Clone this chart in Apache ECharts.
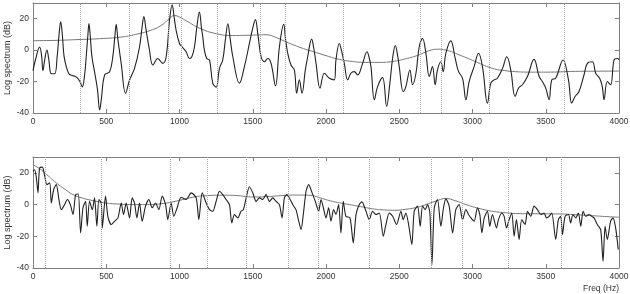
<!DOCTYPE html>
<html><head><meta charset="utf-8">
<script src="https://cdn.jsdelivr.net/npm/echarts@6/dist/echarts.min.js"></script>
<style>html,body{margin:0;padding:0;background:#fff}#c{width:630px;height:294px}</style>
</head><body><div id="c"></div>
<script>
// Frequency (Hz), log spectrum (dB)
const topSpectrum = [[0,-13],[20,-5],[45,2],[58,-3],[68,-13],[80,-6],[95,0],[108,-6],[125,-15],[148,-15],[165,-4],[178,10],[189,18],[200,10],[212,-4],[227,-10.5],[245,-15],[261,-16],[295,-17],[320,-20],[336,-23.4],[352,-16],[365,-2],[375,10],[382,17],[390,10],[402,-4],[420,-13.7],[440,-25],[455,-38],[466,-31.6],[489,-15.8],[523,-13.7],[545,-4],[558,8],[568,16.4],[578,8],[602,-8.4],[632,-27.4],[659,-19],[693,-11.6],[727,2],[745,15],[757,21.3],[770,14],[795,0],[818,-9.5],[852,-5.3],[870,-7],[886,-8.4],[909,-4.2],[932,19],[950,28.9],[962,22],[977,12.6],[1000,4.2],[1018,2],[1045,-1],[1068,-5.3],[1085,-4],[1102,2],[1120,16],[1136,24.2],[1150,14],[1159,8.4],[1170,0],[1186,-5.3],[1205,-6.3],[1227,-21],[1250,-23.6],[1273,-11.6],[1295,-6.3],[1315,8],[1330,16.8],[1345,8],[1364,-4.2],[1409,-21],[1443,-10.5],[1477,4.2],[1500,14],[1518,19.4],[1535,10],[1557,-4.2],[1580,-7.4],[1602,-5.3],[1625,-8.4],[1655,-22.7],[1682,2],[1711,16.4],[1725,6],[1739,-2],[1761,-9.5],[1784,-12.6],[1800,-27.4],[1818,-18.9],[1836,-27.4],[1859,-12.6],[1875,-4.2],[1902,7],[1915,2],[1932,-8.4],[1959,-24.2],[1989,-14.7],[2023,-17.9],[2057,-18.9],[2068,-6.3],[2091,4.2],[2105,0],[2125,-8.4],[2148,-18.9],[2170,-14.7],[2193,-13.7],[2216,-15.8],[2250,-8.4],[2280,-1],[2295,-5],[2307,-10.5],[2330,-31.6],[2352,-23.2],[2386,-17.5],[2414,-35.8],[2436,-21],[2455,-5],[2473,3],[2490,-4],[2500,-10.5],[2527,-26.3],[2545,-23.2],[2573,-12.6],[2591,-22],[2614,-14.7],[2636,2],[2659,7.4],[2682,-2],[2705,-16.8],[2727,-10.5],[2745,-22],[2761,-12.6],[2784,-7.4],[2800,-13.7],[2818,-2],[2852,5.9],[2882,-5.3],[2905,-13.7],[2932,-17.9],[2955,-31.6],[2977,-20],[3011,-10.5],[3041,-2],[3068,-10.5],[3102,-33.7],[3125,-21],[3148,-18.9],[3170,-17.9],[3205,-11.6],[3234,-4.2],[3261,-12.6],[3291,-29.5],[3314,-24.2],[3341,-22],[3375,-16.8],[3420,-5.9],[3455,-16.8],[3477,-20],[3500,-24.2],[3523,-31.6],[3541,-18.9],[3568,-17.9],[3618,-6.3],[3655,-18.9],[3677,-33.7],[3700,-29.5],[3727,-26.3],[3761,-15.8],[3784,-8.4],[3818,-7.4],[3841,-14.7],[3868,-17.9],[3886,-23.2],[3898,-31.6],[3920,-20],[3943,-22],[3966,-6.3],[3989,-5.3],[4000,-6]];
const topEnvelope = [[0,6],[150,6.2],[300,6.7],[455,7.3],[600,8.3],[700,10],[800,12.5],[880,16],[930,20],[966,22],[1000,21],[1050,18.5],[1136,14],[1250,10.5],[1364,9.3],[1480,9.5],[1591,9.8],[1660,8],[1727,5.3],[1830,1.5],[1932,-1.5],[2000,-3.5],[2091,-5.9],[2180,-7.2],[2273,-7.8],[2370,-7.8],[2455,-7.2],[2540,-5.6],[2636,-3],[2700,-0.5],[2760,0.6],[2820,0],[2909,-3],[3000,-6.5],[3136,-11.6],[3220,-13],[3295,-13.7],[3400,-14],[3500,-14],[3705,-13.5],[3850,-13.4],[4000,-13.3]];
const topMarkers = [325,660,920,1012,1261,1548,1721,2120,2643,2788,3116,3625];

const bottomSpectrum = [[0,21],[11,22],[23,16.8],[34,7.4],[45,23.2],[64,23.6],[80,17.9],[95,12.6],[114,13.7],[125,1],[141,9.5],[159,12.6],[177,3.2],[193,-3.2],[216,0],[234,3.2],[255,0],[273,-6.3],[291,6.3],[309,6.7],[325,-17.9],[341,-2],[359,2],[370,-13.7],[386,2],[405,-3.2],[420,4.2],[436,-13.7],[450,3.2],[466,1],[473,-14.7],[495,5.3],[511,-7.4],[534,-12.6],[557,-10.5],[580,-8.4],[602,1],[618,-6.3],[636,1],[659,-8.4],[677,4.2],[693,1],[709,-8.4],[727,1],[745,-10.5],[768,-1],[791,3.2],[814,-2],[836,1],[859,-3.2],[882,5.3],[905,0],[920,-9.5],[943,1],[961,-7.4],[984,-2],[1011,4.6],[1045,3.2],[1080,7.4],[1114,4.2],[1132,-9.5],[1155,7.4],[1182,1],[1205,-3.2],[1227,-4.2],[1250,2],[1273,8.4],[1295,6.3],[1318,3.2],[1341,0],[1357,-11.6],[1375,-6.3],[1398,-8.4],[1420,-4.2],[1436,-3.2],[1455,4.2],[1477,11.2],[1500,7.4],[1523,2],[1545,4.2],[1568,3.2],[1591,6.3],[1614,2],[1636,4.2],[1659,2],[1682,0],[1700,-8.4],[1716,4.2],[1732,6.3],[1750,4.2],[1773,0],[1795,-3.2],[1814,-10.5],[1830,-15.8],[1845,-6.3],[1864,8.4],[1882,12.6],[1905,7.4],[1927,2],[1950,-4.2],[1966,3.2],[1982,-2],[2000,-8.4],[2018,-2],[2034,-10.5],[2052,-3.2],[2068,-6.3],[2086,0],[2102,-17.9],[2118,2],[2136,-7.4],[2164,-8.4],[2186,-24.2],[2205,-6.3],[2227,0],[2245,1.7],[2273,-4.2],[2295,-9.5],[2318,-4.2],[2341,-6.3],[2364,-5.3],[2391,-20],[2409,-12.6],[2432,-5.3],[2455,-7.4],[2482,-12.6],[2511,-4.2],[2527,-9.5],[2545,-5.3],[2564,-12.6],[2586,-25.3],[2602,-4.2],[2625,-1],[2643,-13.7],[2659,-1],[2677,-3.2],[2693,0],[2709,-5.3],[2723,-37.9],[2739,-2],[2761,3.2],[2784,-13.7],[2802,-2],[2818,3.6],[2841,-1],[2864,-17.9],[2886,-3.2],[2909,0],[2932,-9.5],[2955,-3.2],[2973,-6.3],[2989,-8.4],[3011,-10.5],[3034,-2],[3050,-6.3],[3064,-17.9],[3080,-8.4],[3102,-4.2],[3118,-13.7],[3136,-6.3],[3164,-14.7],[3177,-9.5],[3200,-5.3],[3216,-7.4],[3232,-14.7],[3250,-9.5],[3268,-5.3],[3284,-20],[3300,-9.5],[3318,-22],[3336,-9.5],[3359,-12.6],[3375,-4.2],[3398,-7.4],[3420,-1],[3443,-3.2],[3466,-6.3],[3489,-5.3],[3505,-8.4],[3523,-7.4],[3541,-5.3],[3568,-22],[3586,-9.5],[3602,-7.4],[3614,-18.9],[3632,-7.4],[3655,-6.3],[3670,-11.6],[3686,-6.3],[3705,-8.4],[3723,-5.3],[3739,-13.7],[3755,-4.2],[3773,-7.4],[3795,-6.3],[3814,-7.4],[3830,-8.4],[3852,-12.6],[3875,-15.8],[3891,-35.8],[3905,-13.7],[3920,-22],[3943,-10.5],[3959,-8.4],[3977,-14.7],[3995,-28.4]];
const bottomEnvelope = [[0,25],[40,23],[80,20],[159,13.7],[220,9.5],[273,6.3],[340,4],[409,2.5],[480,1.2],[568,0.4],[700,0],[795,0],[880,0.6],[955,1.7],[1091,4.6],[1200,5.7],[1300,5.9],[1400,5.6],[1500,4.8],[1600,5],[1705,5.7],[1800,6],[1886,5.9],[1960,4.2],[2045,2],[2159,0],[2250,-1.5],[2318,-2.7],[2400,-3.4],[2470,-3.6],[2540,-3],[2610,-2],[2682,0],[2750,2.2],[2818,3.8],[2880,2.5],[2955,0],[3040,-2.3],[3136,-4.2],[3230,-5.2],[3318,-5.7],[3450,-5.8],[3591,-5.9],[3700,-6.4],[3818,-7],[3900,-7.5],[4000,-8]];
const bottomMarkers = [87,466,937,1187,1455,1743,1950,2298,2716,2927,3241,3609];

const xRange = [0, 4000], xStep = 500;
const yRange = [-40, 30], yStep = 20;
const yName = 'Log spectrum (dB)';
const xName = 'Freq (Hz)';

const FONT = '"Liberation Sans", Arial, sans-serif';
const FRAME = '#808080';
const TXT = '#333';

const chart = echarts.init(document.getElementById('c'), null, {renderer: 'canvas'});

const grids = [
  {left: 33, top: 3, width: 586, height: 110, containLabel: false, outerBoundsMode: 'none'},
  {left: 33, top: 157, width: 586, height: 111, containLabel: false, outerBoundsMode: 'none'}
];

function xAx(gi, pos, labels) {
  return {
    type: 'value', gridIndex: gi, position: pos, min: xRange[0], max: xRange[1], interval: xStep,
    axisLine: {show: true, onZero: false, lineStyle: {color: FRAME, width: 1}},
    axisTick: {show: true, inside: true, length: 4, lineStyle: {color: FRAME}},
    axisLabel: {show: labels, fontSize: 8.5, color: TXT, margin: 4, fontFamily: FONT,
                formatter: v => String(v)},
    splitLine: {show: false}
  };
}
function yAx(gi, pos, labels) {
  return {
    type: 'value', gridIndex: gi, position: pos, min: yRange[0], max: yRange[1], interval: yStep,
    name: labels ? yName : '', nameLocation: 'middle', nameRotate: 90, nameGap: 21,
    nameMoveOverlap: false,
    nameTextStyle: {fontSize: 9, color: TXT, fontFamily: FONT},
    axisLine: {show: true, onZero: false, lineStyle: {color: FRAME, width: 1}},
    axisTick: {show: true, inside: true, length: 4, lineStyle: {color: FRAME}},
    axisLabel: {show: labels, fontSize: 8.5, color: TXT, margin: 4, fontFamily: FONT, showMaxLabel: false,
                formatter: v => String(v)},
    splitLine: {show: false}
  };
}

function markers(list) {
  return {
    silent: true, symbol: 'none', label: {show: false},
    lineStyle: {color: '#aaa', type: 'dotted', width: 1},
    data: list.map(f => ({xAxis: f}))
  };
}

chart.setOption({
  animation: false,
  backgroundColor: '#fff',
  title: {text: xName, right: 11, top: 284, padding: 0,
          textStyle: {fontSize: 8.5, fontWeight: 'normal', color: TXT, fontFamily: FONT}},
  grid: grids,
  xAxis: [xAx(0, 'bottom', true), xAx(0, 'top', false), xAx(1, 'bottom', true), xAx(1, 'top', false)],
  yAxis: [yAx(0, 'left', true), yAx(0, 'right', false), yAx(1, 'left', true), yAx(1, 'right', false)],
  series: [
    {type: 'line', xAxisIndex: 0, yAxisIndex: 0, data: topEnvelope, showSymbol: false, smooth: 0.5,
     lineStyle: {color: '#777', width: 1}, markLine: markers(topMarkers), z: 2},
    {type: 'line', xAxisIndex: 0, yAxisIndex: 0, data: topSpectrum, showSymbol: false, smooth: 0.4,
     lineStyle: {color: '#222', width: 1.1}, z: 3},
    {type: 'line', xAxisIndex: 2, yAxisIndex: 2, data: bottomEnvelope, showSymbol: false, smooth: 0.5,
     lineStyle: {color: '#777', width: 1}, markLine: markers(bottomMarkers), z: 2},
    {type: 'line', xAxisIndex: 2, yAxisIndex: 2, data: bottomSpectrum, showSymbol: false, smooth: 0.25,
     lineStyle: {color: '#222', width: 1.1}, z: 3}
  ]
});
</script>
</body></html>
